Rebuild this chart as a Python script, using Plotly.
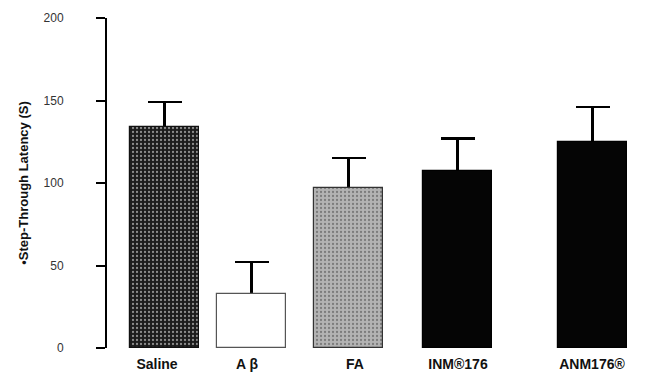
import plotly.graph_objects as go

categories = ["Saline", "A β", "FA", "INM®176", "ANM176®"]
latency = [134, 33, 97, 107, 125]
sem = [15, 19, 18, 20, 21]
y_ticks = [0, 50, 100, 150, 200]

# layout helpers (horizontal placement of groups, in axis units)
bar_pos = [164.5, 251.5, 348.5, 457.5, 592.5]
label_pos = [157, 247, 355, 458, 592]
bar_colors = ["#1c1c1c", "#ffffff", "#b3b3b3", "#050505", "#050505"]
line_colors = ["#111111", "#555555", "#333333", "#000000", "#000000"]
patterns = [".", "", ".", "", ""]
pattern_fg = ["#555555", "#ffffff", "#767676", "#050505", "#050505"]

fig = go.Figure()
# error bars (drawn underneath, so only the upper half shows)
fig.add_trace(go.Bar(
    x=bar_pos, y=latency, width=69,
    marker=dict(color="rgba(0,0,0,0)", line=dict(width=0)),
    error_y=dict(type="data", array=sem, color="black", thickness=2.2, width=17),
    showlegend=False, hoverinfo="skip",
))
fig.add_trace(go.Bar(
    x=bar_pos, y=latency, width=69,
    marker=dict(color=bar_colors, line=dict(color=line_colors, width=1.2),
                pattern=dict(shape=patterns, fgcolor=pattern_fg, size=4,
                             solidity=0.25, fillmode="overlay")),
    showlegend=False,
))

fig.add_shape(type="line", xref="x", yref="y", x0=113, x1=648, y0=-1.2, y1=-1.2,
              line=dict(color="black", width=2.5))

fig.update_layout(
    width=648, height=381,
    margin=dict(l=107, r=0, t=18, b=33),
    paper_bgcolor="white", plot_bgcolor="white",
    font=dict(family="Liberation Sans, Arial", color="#111"),
    barmode="overlay",
    xaxis=dict(range=[107, 648], tickvals=label_pos, ticktext=categories,
               showline=False, showgrid=False, zeroline=False, ticks="",
               ticklabelstandoff=6, automargin=False,
               tickfont=dict(size=14, weight="bold", color="#111")),
    yaxis=dict(range=[0, 200], tickvals=y_ticks, showgrid=False, zeroline=False,
               showline=True, linecolor="black", linewidth=2,
               ticks="outside", ticklen=9, tickwidth=2, tickcolor="black",
               ticklabelstandoff=30, automargin=False,
               tickfont=dict(size=12, color="#333"),
               title=dict(text="•Step-Through Latency (S)", standoff=12,
                          font=dict(size=13, weight="bold", color="#111"))),
    bargap=0,
)

fig.write_html("out.html", config={"displayModeBar": False},
               post_script="document.body.style.margin='0';")
